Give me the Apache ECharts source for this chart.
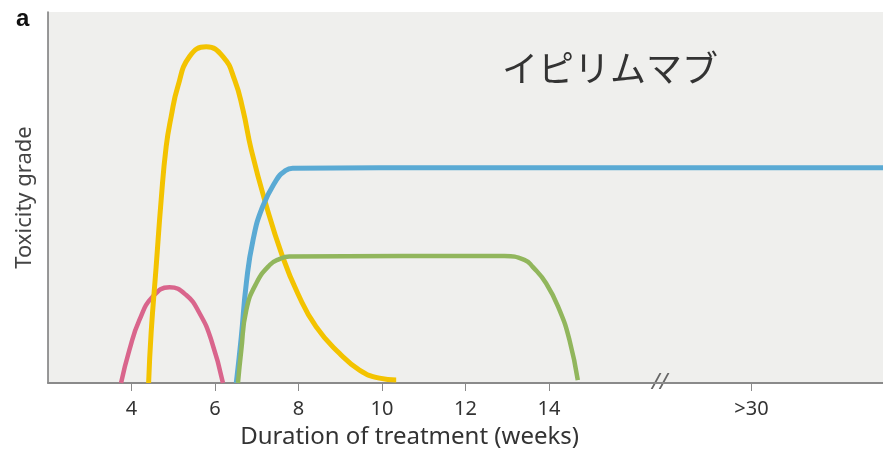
<!DOCTYPE html>
<html>
<head>
<meta charset="utf-8">
<title>イピリムマブ</title>
<script src="https://cdn.jsdelivr.net/npm/echarts@6/dist/echarts.min.js"></script>
<style>
  html, body { margin: 0; padding: 0; background: #ffffff; }
  #chart { width: 883px; height: 451px; }
</style>
</head>
<body>
<div id="chart"></div>
<script>
// Toxicity onset profiles over treatment duration, [weeks, grade level]
const skinRash = [
  [3.75, 0], [3.95, 8.9], [4.19, 17.0], [4.51, 23.3], [4.91, 25.8],
  [5.31, 23.7], [5.63, 18.8], [5.91, 11.6], [6.19, 0]
];
const diarrhoea = [
  [4.41, 0], [4.47, 13.5], [4.59, 31.3], [4.71, 49.3], [4.83, 63.7],
  [4.95, 71.8], [5.11, 79.9], [5.39, 88.0], [5.79, 90.6], [6.19, 88.0],
  [6.47, 81.7], [6.67, 73.6], [6.87, 62.8], [7.19, 49.3], [7.62, 34.0],
  [7.98, 24.2], [8.42, 15.2], [8.98, 8.0], [9.46, 3.5], [9.94, 1.3], [10.34, 0.8]
];
const endocrine = [
  [6.51, 0], [6.63, 12.5], [6.75, 26.9], [6.91, 38.5], [7.14, 47.5],
  [7.47, 54.7], [7.66, 57.0], [7.86, 57.9], [12, 58.0], [17, 58.0], [22, 58.0]
];
const hepatic = [
  [6.55, 0], [6.63, 8.9], [6.75, 19.7], [6.99, 26.9], [7.31, 31.8],
  [7.54, 33.4], [7.78, 34.1], [10.5, 34.2], [12.93, 34.2], [13.41, 33.2],
  [13.61, 31.3], [13.93, 26.9], [14.25, 19.7], [14.49, 11.6], [14.69, 0.8]
];

// Axis ticks; the last one stands for the period beyond the axis break
const tickValues = [4, 6, 8, 10, 12, 14, 18.85];
const tickLabels = ['4', '6', '8', '10', '12', '14', '>30'];
const axisBreakAt = 16.65;
const xTitle = 'Duration of treatment (weeks)';
const xTitleCentre = 10.66;   // the title sits under the weekly part of the axis

const FONT = '"Noto Sans", sans-serif';

const chart = echarts.init(document.getElementById('chart'), null, { renderer: 'canvas' });

function curve(name, data, color, width) {
  return {
    name: name,
    type: 'line',
    data: data,
    smooth: 0.5,
    showSymbol: false,
    symbol: 'none',
    clip: true,
    lineStyle: { color: color, width: width },
    emphasis: { disabled: true }
  };
}

chart.setOption({
  animation: false,
  backgroundColor: '#ffffff',
  grid: {
    left: 48, right: 0, top: 12, bottom: 68,
    outerBoundsMode: 'none',
    containLabel: false,
    show: true, backgroundColor: '#efefed', borderWidth: 0
  },
  xAxis: {
    type: 'value',
    min: 2, max: 22,
    axisLine: { show: true, lineStyle: { color: '#8a8a8a', width: 2 } },
    axisTick: {
      show: true, length: 8, inside: false,
      customValues: tickValues,
      lineStyle: { color: '#8a8a8a', width: 1 }
    },
    axisLabel: {
      show: true, margin: 16,
      customValues: tickValues,
      fontFamily: FONT, fontSize: 20, color: '#333333',
      formatter: function (v) {
        const i = tickValues.indexOf(v);
        return i >= 0 ? tickLabels[i] : '';
      }
    },
    splitLine: { show: false }
  },
  yAxis: {
    type: 'value',
    min: 0, max: 100,
    name: 'Toxicity grade',
    nameLocation: 'middle',
    nameGap: 12,
    nameTextStyle: { fontFamily: FONT, fontSize: 22, color: '#444444' },
    axisLine: { show: true, lineStyle: { color: '#777777', width: 1.5 } },
    axisTick: { show: false },
    axisLabel: { show: false },
    splitLine: { show: false }
  },
  series: [
    curve('Skin', skinRash, '#d9658c', 4.5),
    curve('Gastrointestinal', diarrhoea, '#f3c300', 5),
    curve('Endocrine', endocrine, '#5aaad4', 5),
    curve('Liver', hepatic, '#91b65c', 4.5)
  ]
});

// Panel letter, drug name, x-axis title and the axis-break mark
const breakPos = chart.convertToPixel({ gridIndex: 0 }, [axisBreakAt, 0]);
const titlePos = chart.convertToPixel({ gridIndex: 0 }, [xTitleCentre, 0]);
chart.setOption({
  graphic: [
    {
      type: 'text', left: 16, top: 7,
      style: { text: 'a', font: 'bold 24px "Liberation Sans", Arial, sans-serif', fill: '#111111' }
    },
    {
      type: 'text', left: 502, top: 50,
      style: { text: 'イピリムマブ', font: '36px "Noto Sans CJK JP", sans-serif', fill: '#333333' }
    },
    {
      type: 'text', x: titlePos[0], y: titlePos[1] + 54,
      style: {
        text: xTitle, font: '24px "Noto Sans", sans-serif', fill: '#333333',
        align: 'center', verticalAlign: 'middle'
      }
    },
    {
      type: 'text', x: breakPos[0], y: breakPos[1],
      style: {
        text: '//', font: 'italic 22px "Noto Sans", sans-serif', fill: '#666666',
        align: 'center', verticalAlign: 'middle'
      }
    }
  ]
});
</script>
</body>
</html>
